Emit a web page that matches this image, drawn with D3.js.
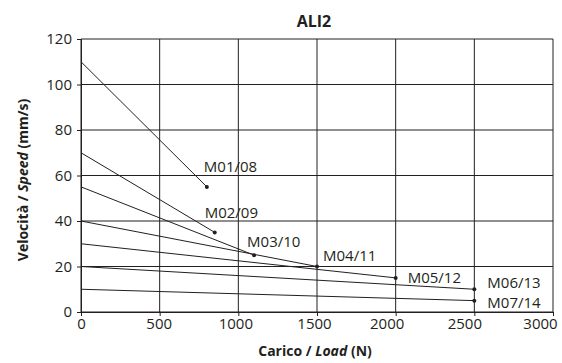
<!DOCTYPE html>
<html>
<head>
<meta charset="utf-8">
<script src="https://cdn.jsdelivr.net/npm/d3@7"></script>
<style>
  body { margin: 0; background: #fff; }
  text { font-family: "Open Sans", sans-serif; fill: #231f20; }
</style>
</head>
<body>
<script>
// series: each line starts at load 0 and ends at its max load
let models = ["M01/08", "M02/09", "M03/10", "M04/11", "M05/12", "M06/13", "M07/14"];
let startSpeed = [110, 70, 55, 40, 30, 20, 10];
let endLoad = [800, 850, 1100, 1500, 2000, 2500, 2500];
let endSpeed = [55, 35, 25, 20, 15, 10, 5];

let xTicks = [0, 500, 1000, 1500, 2000, 2500, 3000];
let yTicks = [0, 20, 40, 60, 80, 100, 120];

// label offsets from line end (px)
let labelDx = [-3, -10, -7, 6, 12, 13, 13];
let labelDy = [-15, -14, -8, -6, 5, -1, 7];
// x tick labels sit a bit left of their gridline in the original
let xTickNudge = [0, -1, -3, -3, -9, -10, -13];

let width = 562, height = 363;
let margin = {top: 39, right: 9, bottom: 51, left: 81};

let svg = d3.select('body').append('svg')
    .attr('width', width)
    .attr('height', height);

let g = svg.append('g')
    .attr('transform', 'translate(' + margin.left + ',' + margin.top + ')');

let w = width - margin.left - margin.right;
let h = height - margin.top - margin.bottom;

let xScale = d3.scaleLinear().domain([0, 3000]).range([0, w]);
let yScale = d3.scaleLinear().domain([0, 120]).range([h, 0]);

// grid
g.selectAll('.vgrid').data(xTicks).enter().append('line')
    .attr('x1', d => xScale(d)).attr('x2', d => xScale(d))
    .attr('y1', 0).attr('y2', h)
    .attr('stroke', '#231f20').attr('stroke-width', 1);
g.selectAll('.hgrid').data(yTicks).enter().append('line')
    .attr('x1', 0).attr('x2', w)
    .attr('y1', d => yScale(d)).attr('y2', d => yScale(d))
    .attr('stroke', '#231f20').attr('stroke-width', 1);

// axes
let xAxis = d3.axisBottom(xScale).tickValues(xTicks).tickFormat(d3.format('d')).tickSize(4).tickPadding(2);
let yAxis = d3.axisLeft(yScale).tickValues(yTicks).tickFormat(d3.format('d')).tickSize(4).tickPadding(5);

let gx = g.append('g').attr('transform', 'translate(0,' + h + ')').call(xAxis);
let gy = g.append('g').call(yAxis);
[gx, gy].forEach(a => {
  a.select('.domain').attr('stroke', '#231f20');
  a.selectAll('.tick line').attr('stroke', '#231f20');
  a.selectAll('.tick text').style('font-size', '15px').attr('fill', '#231f20');
});
gx.selectAll('.tick text').attr('dx', (d, i) => xTickNudge[i]);

// lines
g.selectAll('.series').data(models).enter().append('line')
    .attr('x1', xScale(0))
    .attr('y1', (d, i) => yScale(startSpeed[i]))
    .attr('x2', (d, i) => xScale(endLoad[i]))
    .attr('y2', (d, i) => yScale(endSpeed[i]))
    .attr('stroke', '#231f20').attr('stroke-width', 1);

g.selectAll('.dot').data(models).enter().append('circle')
    .attr('cx', (d, i) => xScale(endLoad[i]))
    .attr('cy', (d, i) => yScale(endSpeed[i]))
    .attr('r', 2)
    .attr('fill', '#231f20');

g.selectAll('.lbl').data(models).enter().append('text')
    .attr('x', (d, i) => xScale(endLoad[i]) + labelDx[i])
    .attr('y', (d, i) => yScale(endSpeed[i]) + labelDy[i])
    .style('font-size', '15px')
    .text(d => d);

// title
svg.append('text')
    .attr('x', margin.left + w / 2 - 3)
    .attr('y', 27)
    .attr('text-anchor', 'middle')
    .style('font-size', '16px').style('font-weight', 'bold')
    .text('ALI2');

// x label
let xl = svg.append('text')
    .attr('x', margin.left + w / 2 - 2)
    .attr('y', 356)
    .attr('text-anchor', 'middle')
    .style('font-size', '14px').style('font-weight', 'bold');
xl.append('tspan').text('Carico / ');
xl.append('tspan').style('font-style', 'italic').text('Load');
xl.append('tspan').text(' (N)');

// y label
let yl = svg.append('text')
    .attr('transform', 'translate(28,180) rotate(-90)')
    .attr('text-anchor', 'middle')
    .style('font-size', '14px').style('font-weight', 'bold');
yl.append('tspan').text('Velocità / ');
yl.append('tspan').style('font-style', 'italic').text('Speed');
yl.append('tspan').text(' (mm/s)');
</script>
</body>
</html>
